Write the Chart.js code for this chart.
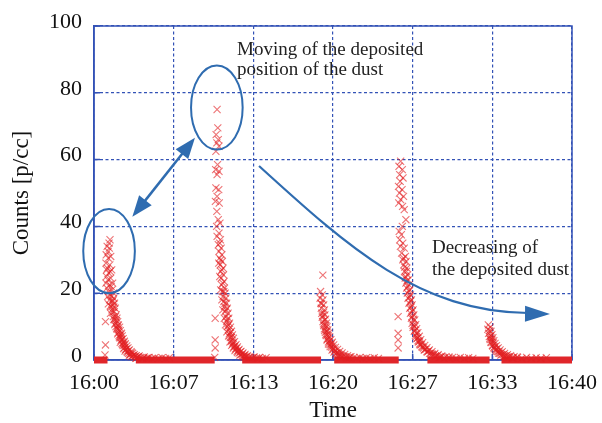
<!DOCTYPE html>
<html>
<head>
<meta charset="utf-8">
<script src="https://cdn.jsdelivr.net/npm/chart.js@4.4.1/dist/chart.umd.min.js"></script>
<style>
  html, body { margin: 0; padding: 0; background: #fff; }
</style>
</head>
<body>
<canvas id="grafico" width="602" height="423"></canvas>
<script>
// minutes after 16:00 -> counts [p/cc], one array per dust burst
let burst1 = [[1.34,36],[1.10,34],[1.28,33.5],[1.02,31.5],[1.40,31],[1.20,30.5],[1.00,29],[1.32,28.5],[1.12,27.5],[1.48,27],[1.24,26],[1.04,25],[1.40,24.5],[1.16,24],[1.56,23],[1.30,22.5],[1.08,21.5],[1.50,21],[1.22,20.5],[1.62,20],[1.38,19.5],[1.14,19],[1.66,18.5],[1.30,18],[1.52,17.5],[1.72,17],[1.20,16.8],
  [1.18,32.5],[1.26,35],[1.06,27],[1.36,26.5],[1.44,22],[1.00,23],
  [1.60,16.5],[1.42,16],[1.78,15.5],[1.50,15],[1.70,14.5],[1.38,14],[1.86,13.5],[1.62,13],[1.92,12.5],[1.70,12],[1.98,11.5],[1.78,11],[2.04,10.5],[1.84,10],[2.14,9.8],[1.94,9.2],[2.20,8.8],[2.02,8.2],[2.30,8],[2.10,7.4],[2.36,7.2],[2.18,6.6],[2.44,6.4],[2.26,5.8],[2.54,5.6],[2.34,5.0],[2.62,4.9],[2.44,4.3],[2.74,4.2],[2.54,3.7],[2.84,3.6],[2.64,3.1],[2.96,3.0],[2.76,2.5],[3.10,2.5],[2.90,2.0],[3.24,2.0],[3.04,1.6],[3.38,1.6],[3.20,1.2],[3.54,1.3],[3.36,0.9],[3.70,1.0],[3.55,0.6],[3.88,0.8],[4.05,0.5],[4.20,0.9],[4.40,0.5],[4.60,0.8],[4.85,0.5],[5.10,0.7],[5.40,0.5],[5.70,0.7],[6.00,0.5],[6.30,0.7],
  [1.46,19],[1.58,17.8],[1.36,16.2],[1.66,15.8],[1.56,14.2],[1.80,13],[1.66,12.2],[1.88,11.8],[1.74,10.6],[2.00,10.2],[1.90,9.5],[2.08,9],[1.98,7.8],[2.24,7.6],[2.12,6.9],[2.32,6.2],[2.20,5.3],[2.48,5.2],[2.38,4.6],[2.58,4.5],[2.48,3.4],[2.70,3.3],[2.60,2.7],[2.88,2.8],[2.80,2.2],[3.00,1.8],[3.16,2.2],[3.30,1.4],[3.12,1.0],[3.46,1.1],[3.62,0.8],[3.78,1.2],[2.96,1.3],[3.50,0.5],[4.15,0.6],[4.50,0.7],
  [0.96,11.5],[0.96,4.5],[0.92,1.5]];

let burst2 = [[10.30,75],[10.36,69.5],[10.22,67.5],[10.40,66],[10.28,65],[10.46,64],[10.20,62.5],[10.34,58.5],[10.18,57],[10.46,56.5],[10.30,55.5],[10.20,51.5],[10.44,51],[10.30,49],[10.16,47.5],[10.48,47],[10.28,44.5],[10.40,42],[10.54,41],[10.26,40],[10.46,38],[10.30,37],[10.58,36],[10.40,34.5],[10.64,33.5],[10.46,32.5],[10.70,31.5],[10.50,30.5],[10.74,29.5],[10.56,28.5],[10.80,27.5],[10.60,26.5],[10.84,25.5],[10.64,24.5],[10.88,23.5],[10.68,22.5],[10.92,21.5],[10.74,20.5],[10.98,20],[10.80,19],[11.04,18.5],[10.86,17.5],[11.10,17],[10.92,16],[11.16,15.5],[10.98,14.5],[11.22,14],[11.04,13],[11.28,12.5],[11.10,11.5],[11.34,11],[11.16,10],[11.42,9.8],[11.24,9],[11.50,8.6],[11.32,7.8],[11.58,7.5],[11.40,6.7],[11.66,6.5],[11.50,5.7],[11.76,5.5],[11.60,4.8],[11.88,4.6],[11.72,4.0],[12.00,3.9],[11.84,3.3],[12.14,3.2],[11.98,2.6],[12.30,2.6],[12.14,2.1],[12.46,2.1],[12.30,1.6],[12.64,1.7],[12.50,1.2],[12.84,1.3],[12.70,0.9],[13.05,1.0],[13.20,0.7],[13.40,0.9],[13.60,0.6],[13.85,0.8],[14.10,0.5],[14.40,0.7],
  [10.52,35],[10.60,30],[10.44,29],[10.70,27],[10.52,25],[10.78,23],[10.60,21],[10.86,20.5],[10.70,18],[10.96,17],[10.78,15],[11.06,15],[10.90,12.5],[11.16,12.2],[11.00,10.5],[11.26,10.4],[11.12,8.4],[11.40,8.2],[11.26,7.2],[11.50,6.8],[11.38,5.4],[11.64,5.2],[11.52,4.4],[11.80,4.2],[11.66,3.6],[11.94,3.5],[11.80,2.8],[12.08,2.9],[12.00,2.2],[12.24,2.4],[12.20,1.5],[12.42,1.8],[12.38,1.1],[12.60,1.4],[12.56,0.8],[12.76,1.0],[12.98,0.7],[13.30,0.6],[13.75,0.5],
  [10.14,12.5],[10.14,6],[10.14,3.6],[10.10,0.8]];

let burst3 = [[19.15,25.4],[18.96,20.5],[19.10,19.5],[18.92,18.5],[19.16,18],[18.98,17],[19.22,16.5],[19.02,15.5],[19.28,15],[19.06,14],[19.32,13.5],[19.10,12.8],[19.38,12.2],[19.16,11.5],[19.44,11],[19.22,10.3],[19.50,10],[19.28,9.3],[19.56,9],[19.36,8.3],[19.64,8],[19.44,7.3],[19.72,7],[19.52,6.3],[19.82,6.1],[19.62,5.4],[19.94,5.3],[19.74,4.6],[20.06,4.5],[19.88,3.9],[20.20,3.8],[20.02,3.2],[20.38,3.2],[20.18,2.6],[20.56,2.6],[20.36,2.1],[20.76,2.1],[20.56,1.6],[20.98,1.7],[20.80,1.2],[21.22,1.3],[21.06,0.9],[21.50,1.0],[21.35,0.6],[21.75,0.8],[22.00,0.5],[22.25,0.8],[22.50,0.5],[22.80,0.7],[23.10,0.5],[23.45,0.7],[23.80,0.5],
  [19.04,16.8],[19.20,14.2],[19.12,13.2],[19.30,12],[19.20,10.8],[19.40,10.2],[19.30,8.8],[19.50,8.6],[19.40,7.6],[19.60,7.2],[19.50,6],[19.72,5.8],[19.62,4.8],[19.86,4.8],[19.76,4],[20.00,3.6],[19.92,3.0],[20.16,3.0],[20.08,2.4],[20.30,2.2],[20.22,1.8],[20.46,1.9],[20.42,1.3],[20.66,1.5],[20.62,0.9],[20.90,1.0],[21.15,0.6],[21.40,0.9]];

let burst4 = [[25.66,59.5],[25.52,58],[25.80,57],[25.58,55.5],[25.86,54.5],[25.62,53.5],[25.48,52],[25.78,51],[25.56,50],[25.90,49],[25.66,48],[25.50,47],[25.82,46],[25.96,45],[26.10,42],[25.80,40],[25.54,38.5],[25.72,37.5],[25.58,36],[25.84,35],[25.64,34],[25.96,33.5],[25.74,32],[26.06,31],[25.84,30],[26.12,29.5],[25.92,28.5],[26.18,27.5],[25.98,26.5],[26.24,25.5],[26.04,24.5],[26.30,24],[26.10,23],[26.36,22.5],[26.16,21.5],[26.42,21],[26.22,20],[26.48,19.5],[26.28,18.5],[26.56,18],[26.36,17],[26.62,16.5],[26.42,15.5],[26.70,15],[26.48,14],[26.76,13.5],[26.56,12.5],[26.84,12],[26.62,11],[26.92,10.6],[26.70,9.8],[27.00,9.4],[26.80,8.6],[27.10,8.2],[26.90,7.4],[27.22,7.1],[27.02,6.4],[27.34,6.1],[27.14,5.4],[27.50,5.2],[27.30,4.5],[27.68,4.4],[27.48,3.8],[27.86,3.7],[27.66,3.1],[28.06,3.0],[27.86,2.5],[28.28,2.5],[28.08,2.0],[28.52,2.0],[28.32,1.5],[28.80,1.6],[28.60,1.1],[29.10,1.2],[28.95,0.8],[29.45,1.0],[29.70,0.6],[30.00,0.8],[30.30,0.5],[30.65,0.8],[31.00,0.5],[31.35,0.7],[31.70,0.5],
  [25.90,30.5],[26.00,27.8],[26.14,26.5],[26.06,25],[26.20,23.8],[26.26,22],[26.34,20.6],[26.40,18.8],[26.50,17.6],[26.52,15.8],[26.64,14.6],[26.60,13],[26.74,12.2],[26.70,10.4],[26.84,10],[26.84,8.8],[26.98,8],[26.96,7],[27.08,6.6],[27.12,5.8],[27.24,5.6],[27.26,4.8],[27.40,4.6],[27.44,4.0],[27.58,3.6],[27.64,3.0],[27.78,3.2],[27.90,2.4],[28.00,2.7],[28.18,2.0],[28.28,1.8],[28.46,1.6],[28.58,1.2],[28.76,1.3],[28.86,0.8],[29.05,0.9],[29.30,0.6],[29.70,0.9],
  [25.45,13],[25.45,8],[25.45,6],[25.45,3.6]];

let burst5 = [[33.00,10.5],[33.16,9.8],[32.96,9.2],[33.22,8.6],[33.02,8],[33.30,7.6],[33.08,7],[33.38,6.7],[33.16,6.1],[33.46,5.8],[33.24,5.2],[33.56,5.0],[33.34,4.4],[33.68,4.3],[33.46,3.7],[33.82,3.6],[33.60,3.1],[33.98,3.0],[33.76,2.5],[34.16,2.5],[33.94,2.0],[34.36,2.0],[34.14,1.6],[34.60,1.6],[34.38,1.2],[34.86,1.3],[34.66,0.9],[35.15,1.0],[35.00,0.6],[35.45,0.8],[35.80,0.5],[36.20,0.8],[36.60,0.5],[37.00,0.7],[37.40,0.5],[37.85,0.7],
  [33.10,8.8],[33.20,7.2],[33.12,6.4],[33.30,6.2],[33.22,5.4],[33.40,5.2],[33.36,4.2],[33.54,4.0],[33.50,3.4],[33.70,3.3],[33.66,2.7],[33.88,2.6],[33.86,2.1],[34.06,2.1],[34.04,1.5],[34.26,1.6],[34.28,1.1],[34.50,1.2],[34.52,0.7],[34.78,0.9],[35.10,0.6],[35.40,0.9]];

// stretches where the counter read 0 (minutes)
let zeroFrom = [0, 3.5, 12.4, 20.1, 27.9, 34.1];
let zeroTo   = [1.13, 10.1, 19.0, 25.5, 33.1, 40];

let tickMin    = [0, 6.667, 13.333, 20, 26.667, 33.333, 40];
let timeLabels = ["16:00", "16:07", "16:13", "16:20", "16:27", "16:33", "16:40"];
let countTicks = [0, 20, 40, 60, 80, 100];

const SERIF = '"Liberation Serif", "Times New Roman", serif';
const AXIS_BLUE = '#3352b6';
const NOTE_BLUE = '#2f6cb0';
const RED = '#e0262a';

let datasets = [];
zeroFrom.forEach((a, i) => {
  datasets.push({
    type: 'line',
    data: [{x: a, y: 0}, {x: zeroTo[i], y: 0}],
    borderColor: RED, borderWidth: 7, pointRadius: 0, borderCapStyle: 'butt',
    clip: false, order: 2
  });
});
[burst1, burst2, burst3, burst4, burst5].forEach(b => {
  datasets.push({
    data: b.map(p => ({x: p[0], y: p[1]})),
    pointStyle: 'crossRot', pointRadius: 5, pointBorderWidth: 1.1,
    borderColor: 'rgba(226, 30, 34, 0.62)', backgroundColor: 'rgba(226, 30, 34, 0.62)',
    clip: false, order: 1
  });
});

let arrowHead = (ctx, tx, ty, fx, fy, len, half) => {
  let ang = Math.atan2(ty - fy, tx - fx);
  ctx.beginPath();
  ctx.moveTo(tx, ty);
  ctx.lineTo(tx - len * Math.cos(ang) + half * Math.sin(ang), ty - len * Math.sin(ang) - half * Math.cos(ang));
  ctx.lineTo(tx - len * Math.cos(ang) - half * Math.sin(ang), ty - len * Math.sin(ang) + half * Math.cos(ang));
  ctx.closePath();
  ctx.fill();
};

let frame = {
  id: 'frame',
  beforeDatasetsDraw(chart) {
    let {ctx, chartArea: a, scales: {x, y}} = chart;
    ctx.save();
    ctx.strokeStyle = AXIS_BLUE;
    ctx.lineWidth = 1.5;
    ctx.strokeRect(a.left, a.top, a.right - a.left, a.bottom - a.top);
    ctx.beginPath();
    tickMin.forEach(v => { let px = x.getPixelForValue(v); ctx.moveTo(px, a.bottom); ctx.lineTo(px, a.bottom - 6); });
    countTicks.forEach(v => { let py = y.getPixelForValue(v); ctx.moveTo(a.left, py); ctx.lineTo(a.left + 6, py); });
    ctx.stroke();
    ctx.restore();
  }
};

// annotations, placed in data units
let notes = {
  id: 'notes',
  afterDatasetsDraw(chart) {
    let {ctx, scales: {x, y}} = chart;
    let px = v => x.getPixelForValue(v), py = v => y.getPixelForValue(v);
    ctx.save();
    ctx.strokeStyle = NOTE_BLUE;
    ctx.fillStyle = NOTE_BLUE;
    ctx.lineWidth = 2;

    [[1.26, 32.6], [10.28, 75.6]].forEach(c => {
      ctx.beginPath();
      ctx.ellipse(px(c[0]), py(c[1]), px(c[0] + 2.16) - px(c[0]), py(c[1]) - py(c[1] + 12.6), 0, 0, Math.PI * 2);
      ctx.stroke();
    });

    let ax = px(3.21), ay = py(42.9), bx = px(8.45), by = py(66.56);
    let ang = Math.atan2(by - ay, bx - ax);
    ctx.lineWidth = 2.5;
    ctx.beginPath();
    ctx.moveTo(ax + 18 * Math.cos(ang), ay + 18 * Math.sin(ang));
    ctx.lineTo(bx - 18 * Math.cos(ang), by - 18 * Math.sin(ang));
    ctx.stroke();
    arrowHead(ctx, ax, ay, bx, by, 21, 8);
    arrowHead(ctx, bx, by, ax, ay, 21, 8);

    let p0 = [px(13.81), py(58.08)], p1 = [px(21.34), py(33.53)], p2 = [px(27.28), py(14.37)], p3 = [px(38.16), py(13.77)];
    ctx.lineWidth = 2.2;
    ctx.beginPath();
    ctx.moveTo(p0[0], p0[1]);
    ctx.bezierCurveTo(p1[0], p1[1], p2[0], p2[1], p3[0] - 22, p3[1] - 1);
    ctx.stroke();
    arrowHead(ctx, p3[0], p3[1], p2[0], p2[1] + 1, 25, 8);

    ctx.fillStyle = '#222';
    ctx.font = '19px ' + SERIF;
    ctx.textAlign = 'left';
    ctx.textBaseline = 'alphabetic';
    ctx.fillText('Moving of the deposited', px(11.97), py(91.3));
    ctx.fillText('position of the dust', px(11.97), py(85.3));
    ctx.fillText('Decreasing of', px(28.28), py(32.0));
    ctx.fillText('the deposited dust', px(28.28), py(25.4));
    ctx.restore();
  }
};

let ctx = document.getElementById('grafico').getContext('2d');

let grafico = new Chart(ctx, {
  type: 'scatter',
  data: { datasets: datasets },
  options: {
    responsive: false,
    animation: false,
    devicePixelRatio: 1,
    layout: { padding: { top: 26, right: 30, left: 0, bottom: 0 } },
    plugins: { legend: { display: false }, tooltip: { enabled: false } },
    scales: {
      x: {
        type: 'linear', min: 0, max: 40,
        afterBuildTicks: s => { s.ticks = tickMin.map(v => ({ value: v })); },
        afterFit: s => { s.height = 63; s.paddingLeft = 0; s.paddingRight = 20; },
        ticks: {
          autoSkip: false, maxRotation: 0, padding: 10, color: '#111',
          font: { family: SERIF, size: 22 },
          callback: (v, i) => timeLabels[i]
        },
        grid: { color: AXIS_BLUE, lineWidth: 1.2, drawTicks: false },
        border: { display: true, color: AXIS_BLUE, width: 1.5, dash: [3, 2.5] },
        title: { display: true, text: 'Time', color: '#111', font: { family: SERIF, size: 23 }, padding: { top: 0, bottom: -2 } }
      },
      y: {
        min: 0, max: 100,
        afterBuildTicks: s => { s.ticks = countTicks.map(v => ({ value: v })); },
        afterFit: s => { s.width = 94; },
        ticks: { padding: 12, labelOffset: -4, color: '#111', font: { family: SERIF, size: 22 } },
        grid: { color: AXIS_BLUE, lineWidth: 1.2, drawTicks: false },
        border: { display: true, color: AXIS_BLUE, width: 1.5, dash: [3, 2.5] },
        title: { display: true, text: 'Counts [p/cc]', color: '#111', font: { family: SERIF, size: 23 }, padding: { top: 8, bottom: 0 } }
      }
    }
  },
  plugins: [frame, notes]
});
</script>
</body>
</html>
